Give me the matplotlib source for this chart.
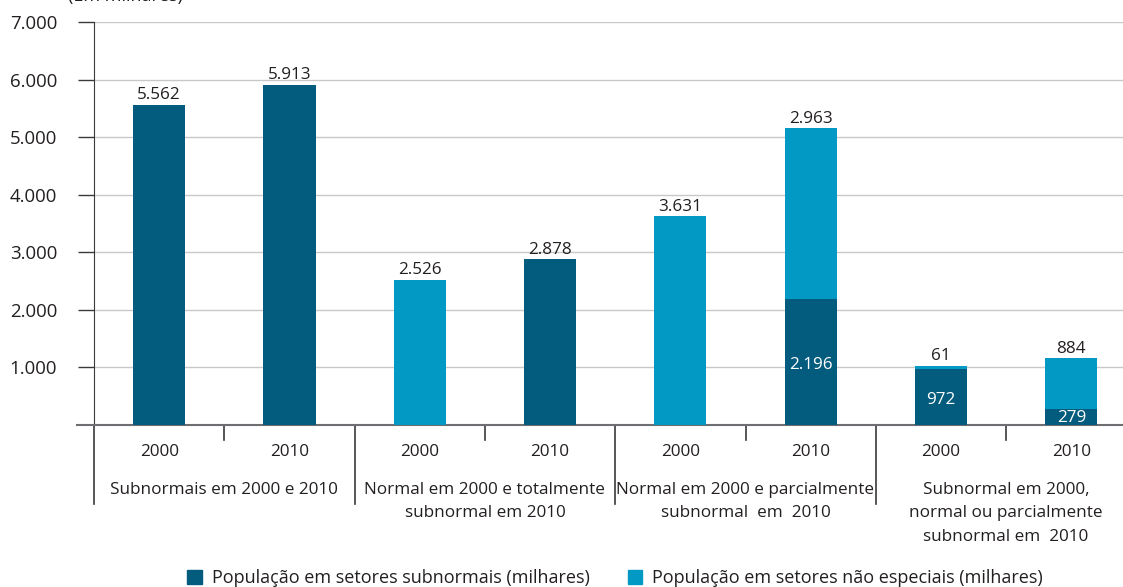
import matplotlib.pyplot as plt
from matplotlib.patches import Patch

plt.rcParams['font.family'] = ['Open Sans', 'DejaVu Sans']

# População (milhares) por situação do setor
anos = ['2000', '2010', '2000', '2010', '2000', '2010', '2000', '2010']
subnormais = [5562, 5913, 0, 2878, 0, 2196, 972, 279]
nao_especiais = [0, 0, 2526, 0, 3631, 2963, 61, 884]
grupos = ['Subnormais em 2000 e 2010',
          'Normal em 2000 e totalmente\nsubnormal em 2010',
          'Normal em 2000 e parcialmente\nsubnormal  em  2010',
          'Subnormal em 2000,\nnormal ou parcialmente\nsubnormal em  2010']
y_ticks = [1000, 2000, 3000, 4000, 5000, 6000, 7000]

COR_ESCURA = '#035C7E'
COR_CLARA = '#0399C5'
COR_TEXTO = '#231F20'
FS = 12.3

fig = plt.figure(figsize=(11.23, 5.87), dpi=100)
W, H = 1123, 587
x0, y0, y_top = 94, 425, 22
larg_cat = 130.3
ax = fig.add_axes([x0 / W, (H - y0) / H, 8 * larg_cat / W, (y0 - y_top) / H])

xs = [i + 0.5 for i in range(len(anos))]
ax.bar(xs, subnormais, width=0.4, color=COR_ESCURA, zorder=3)
ax.bar(xs, nao_especiais, width=0.4, bottom=subnormais, color=COR_CLARA, zorder=3)

ax.set_xlim(0, 8)
ax.set_ylim(0, 7000)
ax.set_yticks(y_ticks)
ax.set_yticklabels([f'{v:,}'.replace(',', '.') for v in y_ticks],
                   fontsize=13.4, color=COR_TEXTO)
ax.tick_params(axis='y', length=11.5, width=1, color='#3a3a3a', pad=15)
ax.set_xticks([])
ax.grid(axis='y', color='#c8c8c8', linewidth=1, zorder=0)

for lado in ['top', 'right']:
    ax.spines[lado].set_visible(False)
ax.spines['left'].set_color('#3a3a3a')
ax.spines['bottom'].set_color('#6d6e71')
ax.spines['bottom'].set_linewidth(1.5)
# prolonga a linha do eixo x para a esquerda
ax.plot([-17 / larg_cat, 0], [0, 0], color='#6d6e71', linewidth=1.5,
        clip_on=False, zorder=4)

fmt = lambda v: f'{v:,}'.replace(',', '.')

# rótulos de valor
for x, s, n in zip(xs, subnormais, nao_especiais):
    topo = s + n
    if s and n:
        ax.annotate(fmt(n), (x, topo), xytext=(0, 1), textcoords='offset points',
                    ha='center', va='bottom', fontsize=FS, color=COR_TEXTO)
        ax.text(x, max(s / 2, 170) - 50, fmt(s), ha='center', va='center',
                fontsize=FS, color='white', zorder=5)
    else:
        ax.annotate(fmt(topo), (x, topo), xytext=(0, 1), textcoords='offset points',
                    ha='center', va='bottom', fontsize=FS, color=COR_TEXTO)

trans = ax.get_xaxis_transform()
dy = 1 / (y0 - y_top)  # um pixel em coordenadas do eixo

# marcas de separação dos anos e dos grupos
for i in range(9):
    fim = -79 * dy if i % 2 == 0 else -15 * dy
    ax.plot([i, i], [0, fim], transform=trans, color='#3a3a3a', linewidth=1.2,
            clip_on=False)

for x, ano in zip(xs, anos):
    ax.text(x, -27 * dy, ano, transform=trans, ha='center', va='center',
            fontsize=FS, color=COR_TEXTO)

for g, nome in enumerate(grupos):
    ax.text(2 * g + 1, -57 * dy, nome, transform=trans, ha='center', va='top',
            fontsize=FS, color=COR_TEXTO, linespacing=1.62)

fig.text(68 / W, 1 + 4 / H, '(Em milhares)', ha='left', va='center',
         fontsize=13, color=COR_TEXTO)

handles = [Patch(color=COR_ESCURA, label='População em setores subnormais (milhares)'),
           Patch(color=COR_CLARA, label='População em setores não especiais (milhares)')]
fig.legend(handles=handles, loc='center', bbox_to_anchor=(615 / W, 9 / H),
           ncol=2, frameon=False, fontsize=13.0, handlelength=0.8,
           handleheight=0.8, handletextpad=0.55, columnspacing=2.1,
           labelcolor=COR_TEXTO)

fig.savefig('out.png', dpi=100)
